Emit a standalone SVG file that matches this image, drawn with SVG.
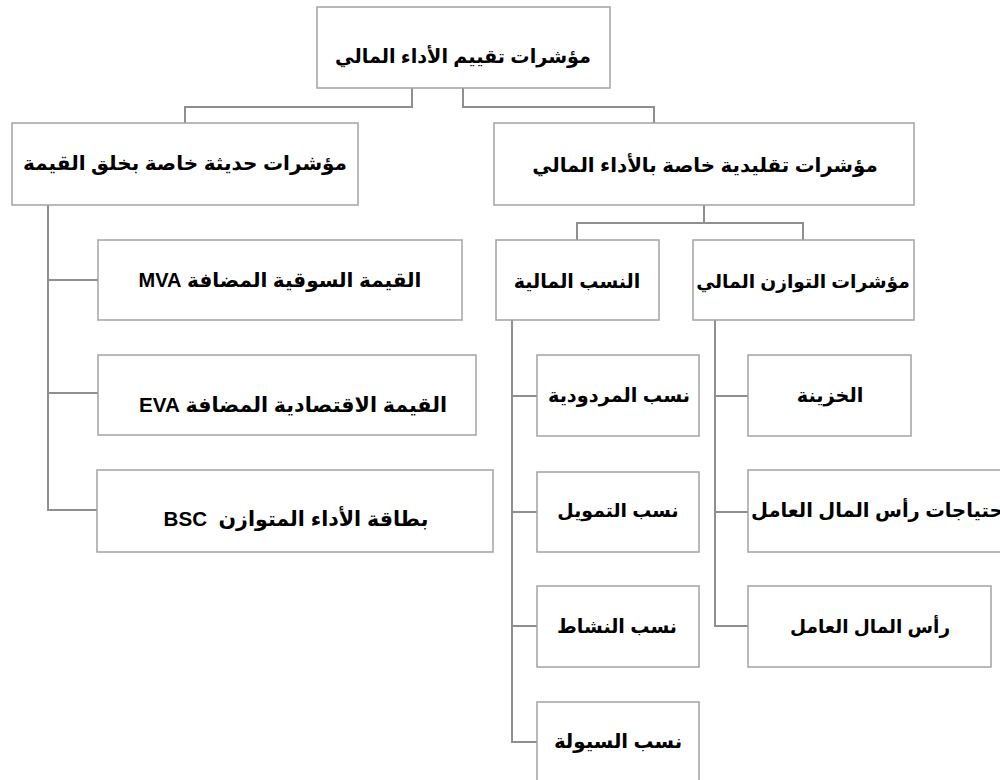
<svg xmlns="http://www.w3.org/2000/svg" width="1000" height="780" viewBox="0 0 1000 780">
  <style>
    .box { fill: #ffffff; stroke: #a3a3a3; stroke-width: 1.5; }
    .link { fill: none; stroke: #8f8f8f; stroke-width: 2; }
    text { font-family: "Liberation Sans", "DejaVu Sans", "Noto Sans", sans-serif; font-weight: bold; fill: #000000; direction: rtl; text-anchor: middle; font-size: 19px; }
    .mixed { font-size: 20px; }
  </style>
  <rect width="1000" height="780" fill="#ffffff"/>

  <!-- elbow connectors between levels -->
  <g id="connectors">
    <path class="link" d="M412,88 V107 H185 V123"/>
    <path class="link" d="M463,88 V107 H654 V123"/>
    <path class="link" d="M704,205 V223 H577 V240"/>
    <path class="link" d="M704,223 H803 V240"/>
    <path class="link" d="M48,205 V510 H97"/>
    <path class="link" d="M48,280 H98"/>
    <path class="link" d="M48,393 H98"/>
    <path class="link" d="M512,320 V742 H537"/>
    <path class="link" d="M512,396 H537"/>
    <path class="link" d="M512,512 H537"/>
    <path class="link" d="M512,626 H537"/>
    <path class="link" d="M715,320 V626 H748"/>
    <path class="link" d="M715,396 H748"/>
    <path class="link" d="M715,512 H748"/>
  </g>

  <g id="root">
    <rect class="box" x="317" y="7" width="293" height="81"/>
    <text x="463" y="63" style="font-size:19.2px">مؤشرات تقييم الأداء المالي</text>
  </g>

  <g id="modern">
    <rect class="box" x="12" y="123" width="346" height="82"/>
    <text x="185" y="170" style="font-size:20px">مؤشرات حديثة خاصة بخلق القيمة</text>
  </g>

  <g id="traditional">
    <rect class="box" x="494" y="123" width="420" height="82"/>
    <text x="705" y="172" style="font-size:19.8px">مؤشرات تقليدية خاصة بالأداء المالي</text>
  </g>

  <g id="ratios">
    <rect class="box" x="496" y="240" width="163" height="80"/>
    <text x="577" y="288" style="font-size:19.1px">النسب المالية</text>
  </g>

  <g id="balance">
    <rect class="box" x="693" y="240" width="221" height="80"/>
    <text x="803" y="288" style="font-size:18.7px">مؤشرات التوازن المالي</text>
  </g>

  <g id="mva">
    <rect class="box" x="98" y="240" width="364" height="80"/>
    <text class="mixed" x="280" y="287">القيمة السوقية المضافة MVA</text>
  </g>

  <g id="eva">
    <rect class="box" x="98" y="355" width="378" height="80"/>
    <text class="mixed" x="293" y="412" style="font-size:20.6px">القيمة الاقتصادية المضافة EVA</text>
  </g>

  <g id="bsc">
    <rect class="box" x="97" y="470" width="396" height="82"/>
    <text class="mixed" x="296" y="526" style="font-size:20.6px" xml:space="preserve">بطاقة الأداء المتوازن  BSC</text>
  </g>

  <g id="profitability">
    <rect class="box" x="537" y="355" width="162" height="81"/>
    <text x="619" y="402" style="font-size:19.3px">نسب المردودية</text>
  </g>

  <g id="financing">
    <rect class="box" x="537" y="472" width="162" height="80"/>
    <text x="618" y="517" style="font-size:18.9px">نسب التمويل</text>
  </g>

  <g id="activity">
    <rect class="box" x="537" y="586" width="162" height="81"/>
    <text x="617" y="633" style="font-size:19.1px">نسب النشاط</text>
  </g>

  <g id="liquidity">
    <rect class="box" x="537" y="702" width="162" height="82"/>
    <text x="618" y="748" style="font-size:19.8px">نسب السيولة</text>
  </g>

  <g id="treasury">
    <rect class="box" x="748" y="355" width="163" height="81"/>
    <text x="830" y="402" style="font-size:19.3px">الخزينة</text>
  </g>

  <!-- this box runs past the right edge of the page -->
  <g id="wcr">
    <rect class="box" x="748" y="470" width="262" height="82"/>
    <text x="751" y="517" style="font-size:19.5px; text-anchor:end">احتياجات رأس المال العامل</text>
  </g>

  <g id="working-capital">
    <rect class="box" x="748" y="586" width="243" height="81"/>
    <text x="870" y="633" style="font-size:18.5px">رأس المال العامل</text>
  </g>
</svg>
